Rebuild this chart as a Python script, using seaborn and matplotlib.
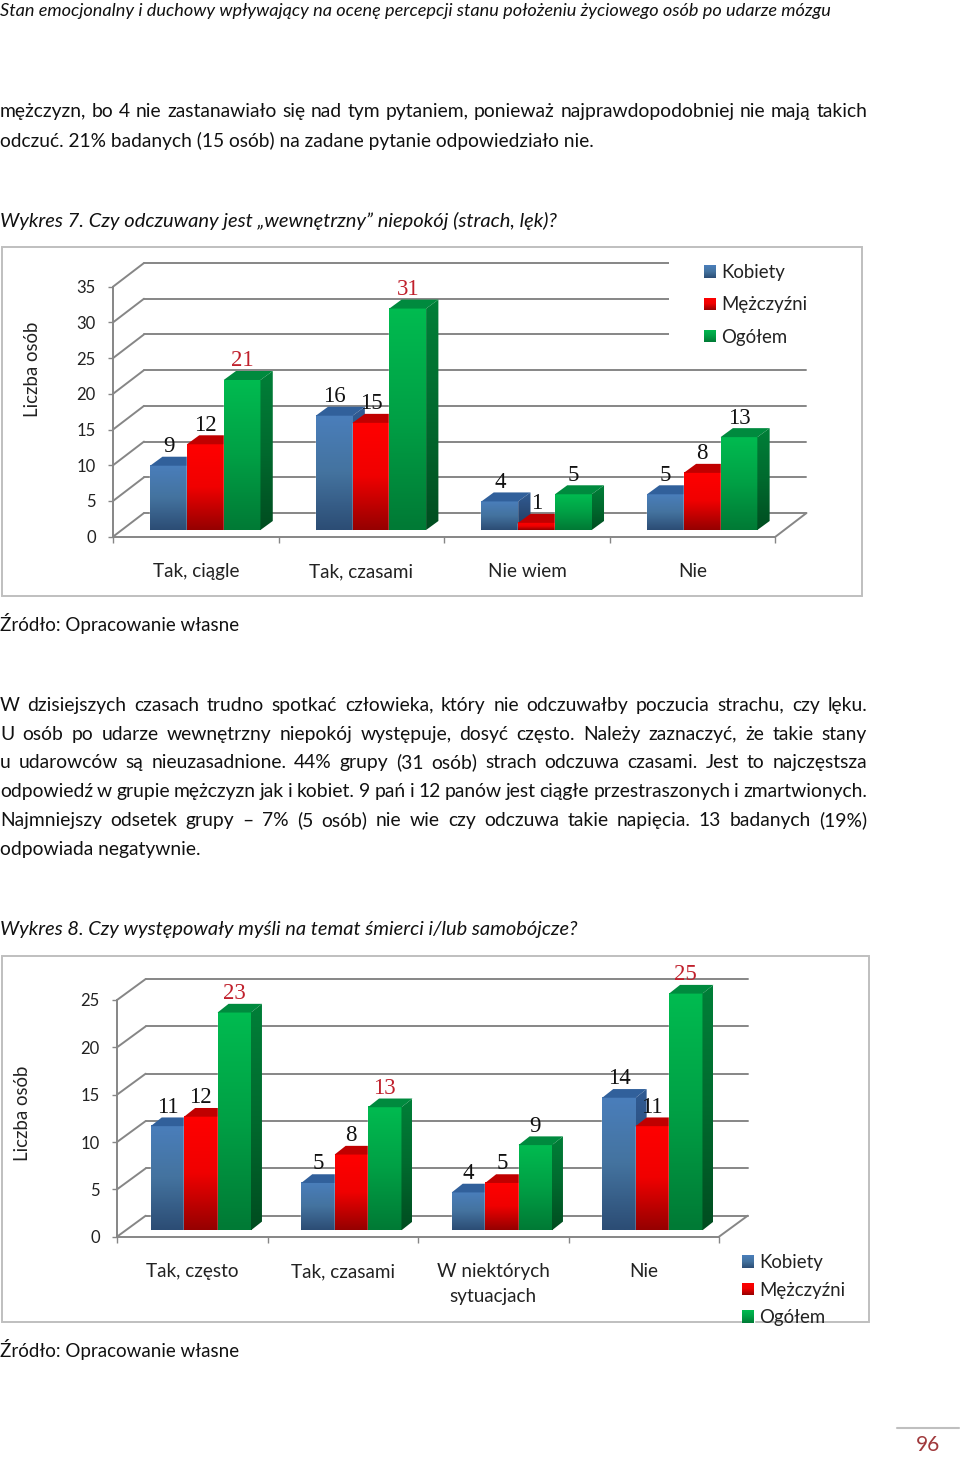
import numpy as np
import pandas as pd
import matplotlib
matplotlib.use("Agg")
import matplotlib.pyplot as plt
import seaborn as sns
from matplotlib.colors import LinearSegmentedColormap
from matplotlib.patches import Polygon, Rectangle

# Wykres 7
groups = ["Kobiety", "Mężczyźni", "Ogółem"]
cats_7 = ["Tak, ciągle", "Tak, czasami", "Nie wiem", "Nie"]
kobiety_7 = [9, 16, 4, 5]
mezczyzni_7 = [12, 15, 1, 8]
ogolem_7 = [21, 31, 5, 13]
yticks_7 = [0, 5, 10, 15, 20, 25, 30, 35]

# Wykres 8
cats_8 = ["Tak, często", "Tak, czasami", "W niektórych\nsytuacjach", "Nie"]
kobiety_8 = [11, 5, 4, 14]
mezczyzni_8 = [12, 8, 5, 11]
ogolem_8 = [23, 13, 9, 25]
yticks_8 = [0, 5, 10, 15, 20, 25]

# Text on the page
header = "Stan emocjonalny i duchowy wpływający na ocenę percepcji stanu położeniu życiowego osób po udarze mózgu"
intro = [
    "mężczyzn, bo 4 nie zastanawiało się nad tym pytaniem, ponieważ najprawdopodobniej nie mają takich",
    "odczuć. 21% badanych (15 osób) na zadane pytanie odpowiedziało nie.",
]
title_7 = "Wykres 7. Czy odczuwany jest „wewnętrzny” niepokój (strach, lęk)?"
title_8 = "Wykres 8. Czy występowały myśli na temat śmierci i/lub samobójcze?"
source = "Źródło: Opracowanie własne"
paragraph = [
    "W dzisiejszych czasach trudno spotkać człowieka, który nie odczuwałby poczucia strachu, czy lęku.",
    "U osób po udarze wewnętrzny niepokój występuje, dosyć często. Należy zaznaczyć, że takie stany",
    "u udarowców są nieuzasadnione. 44% grupy (31 osób) strach odczuwa czasami. Jest to najczęstsza",
    "odpowiedź w grupie mężczyzn jak i kobiet. 9 pań i 12 panów jest ciągłe przestraszonych i zmartwionych.",
    "Najmniejszy odsetek grupy – 7% (5 osób) nie wie czy odczuwa takie napięcia. 13 badanych (19%)",
]
last_line = "odpowiada negatywnie."

sns.set_theme(style="white")
plt.rcParams["font.family"] = ["Lato", "DejaVu Sans"]

GRID = "#868686"
FRAME = "#bfbfbf"
front_cmaps = {
    "Kobiety": ["#4a7ebb", "#44739f", "#2c4d75"],
    "Mężczyźni": ["#ff0000", "#f00000", "#960000"],
    "Ogółem": ["#00bb50", "#00a045", "#007a35"],
}
side_cmaps = {
    "Kobiety": ["#315c94", "#2a4b78", "#1f3a5f"],
    "Mężczyźni": ["#c00000", "#a00000", "#650000"],
    "Ogółem": ["#007f38", "#006a2e", "#004d20"],
}
top_colors = {"Kobiety": "#31609b", "Mężczyźni": "#c00000", "Ogółem": "#008a3e"}
palette = {k: v[1] for k, v in front_cmaps.items()}
ramp = np.linspace(0, 1, 64).reshape(-1, 1)

W, H = 960, 1458
fig = plt.figure(figsize=(W / 100, H / 100), dpi=100)

# background axes in page pixels, used for the text and the frames
bg = fig.add_axes([0, 0, 1, 1])
bg.set_xlim(0, W)
bg.set_ylim(H, 0)
bg.axis("off")


def gradient(ax, colors, extent, z, clip=None):
    cmap = LinearSegmentedColormap.from_list("g", colors)
    im = ax.imshow(ramp, cmap=cmap, extent=extent, aspect="auto", zorder=z,
                   interpolation="bilinear", origin="upper", vmin=0, vmax=1)
    im.set_clip_box(fig.bbox)
    if clip is not None:
        im.set_clip_path(clip)
    return im


def draw_chart(cats, series, yticks, x0, x1, y0, ytop, wall, bar_shift, depth,
               tick_pad, cat_pad, leg_xy, leg_space, red_labels, mask=None):
    ax = fig.add_axes([x0 / W, 1 - y0 / H, (x1 - x0) / W, (y0 - ytop) / H])
    ax.patch.set_alpha(0)
    df = pd.DataFrame({
        "kategoria": cats * 3,
        "grupa": np.repeat(groups, 4),
        "liczba": series[0] + series[1] + series[2],
    })
    sns.barplot(data=df, x="kategoria", y="liczba", hue="grupa", palette=palette,
                width=0.666, gap=0, saturation=1, ax=ax)
    ax.set_autoscale_on(False)
    ax.set_xlim(-0.5, 3.5)
    ax.set_ylim(0, yticks[-1])
    ax.set_xlabel("")
    ax.set_ylabel("")

    # data units per page pixel
    ux = 4 / (x1 - x0)
    uy = yticks[-1] / (y0 - ytop)
    wx, wy = wall[0] * ux, wall[1] * uy
    sx, sy = bar_shift[0] * ux, bar_shift[1] * uy
    dx, dy = depth[0] * ux, depth[1] * uy

    # back wall, left wall and floor
    for v in yticks:
        ax.plot([-0.5 + wx, 3.5 + wx], [v + wy, v + wy], color=GRID, lw=1.4, clip_on=False, zorder=1)
        ax.plot([-0.5, -0.5 + wx], [v, v + wy], color=GRID, lw=1.4, clip_on=False, zorder=1)
    ax.plot([3.5, 3.5 + wx], [0, wy], color=GRID, lw=1.4, clip_on=False, zorder=1)
    if mask is not None:
        ax.add_patch(Rectangle(mask[:2], mask[2], mask[3], transform=bg.transData,
                               fc="white", ec="none", clip_on=False, zorder=1.5))

    sns.despine(ax=ax)
    for side in ["left", "bottom"]:
        ax.spines[side].set_color(GRID)
        ax.spines[side].set_linewidth(1.4)
    ax.set_yticks(yticks)
    ax.set_xticks(np.arange(-0.5, 4))
    ax.set_xticklabels([])
    ax.set_xticks(range(4), cats, minor=True)
    ax.tick_params(axis="y", left=True, length=3.5, width=1, color=GRID, pad=tick_pad,
                   labelsize=12, labelcolor="#222222")
    ax.tick_params(axis="x", which="major", bottom=True, length=4, width=1, color=GRID)
    ax.tick_params(axis="x", which="minor", bottom=False, length=0, pad=cat_pad,
                   labelsize=13.6, labelcolor="#222222")
    for t in ax.get_xticklabels(minor=True):
        t.set_linespacing(1.55)

    # every category is drawn left to right so that nearer faces cover the rest
    z = 2.0
    bars = [(i, g, c[i]) for i in range(4) for g, c in zip(groups, ax.containers)]
    for i, g, bar in bars:
        h = bar.get_height()
        left = bar.get_x() + sx
        right = left + bar.get_width()
        base = sy
        bar.set_x(left)
        bar.set_y(base)
        bar.set_clip_on(False)
        bar.set_zorder(z)
        gradient(ax, front_cmaps[g], (left, right, base, base + h), z + 0.01)
        ax.add_patch(Polygon([(left, base + h), (right, base + h),
                              (right + dx, base + h + dy), (left + dx, base + h + dy)],
                             fc=top_colors[g], ec="none", clip_on=False, zorder=z + 0.02))
        side = Polygon([(right, base), (right + dx, base + dy),
                        (right + dx, base + h + dy), (right, base + h)],
                       transform=ax.transData)
        gradient(ax, side_cmaps[g], (right, right + dx, base, base + h + dy), z + 0.03, side)
        color = "#c0202c" if h in red_labels.get(g, []) else "#111111"
        ax.annotate(f"{int(h)}", (left + bar.get_width() / 2, base + h), xytext=(0, 19 * 0.72),
                    textcoords="offset points", ha="center", va="center", color=color,
                    fontsize=16.5, family="Liberation Serif", zorder=20, annotation_clip=False)
        z += 0.1

    handles, labels = ax.get_legend_handles_labels()
    ax.get_legend().remove()
    fs = 13.4
    px = fs * 100 / 72
    leg = ax.legend(handles, labels, loc="upper left", bbox_to_anchor=leg_xy,
                    bbox_transform=bg.transData, frameon=False, fontsize=fs,
                    borderpad=0, borderaxespad=0, handlelength=12 / px, handleheight=12 / px,
                    handletextpad=5 / px, labelspacing=(leg_space - px * 0.72) / px,
                    labelcolor="#222222")
    leg.set_zorder(30)
    return ax, leg


ax7, leg7 = draw_chart(
    cats_7, [kobiety_7, mezczyzni_7, ogolem_7], yticks_7,
    113, 775.5, 536.7, 286.7, (31, 23.7), (9.5, 6.7), (12.3, 9),
    tick_pad=9, cat_pad=19, leg_xy=(704, 264), leg_space=28.7,
    red_labels={"Ogółem": [21, 31]}, mask=(669, 255, 145, 92))
# the 13 of Ogółem stays black on this chart, only 21 and 31 are red

ax8, leg8 = draw_chart(
    cats_8, [kobiety_8, mezczyzni_8, ogolem_8], yticks_8,
    117, 719, 1236.7, 1000, (28.7, 21), (8.6, 6.4), (11, 8.7),
    tick_pad=9, cat_pad=19, leg_xy=(742, 1254), leg_space=24,
    red_labels={"Ogółem": [23, 13, 25]})

# frames and the page text
bg.add_patch(Rectangle((2, 247), 860, 349, fc="white", ec=FRAME, lw=1.4))
bg.add_patch(Rectangle((2, 955.7), 867, 366.3, fc="white", ec=FRAME, lw=1.4))

bg.text(32, 369, "Liczba osób", rotation=90, fontsize=13.4, color="#222222", ha="center", va="center")
bg.text(23, 1113, "Liczba osób", rotation=90, fontsize=13.4, color="#222222", ha="center", va="center")

renderer = fig.canvas.get_renderer()
BODY = 13.9


def justified(line, y, right=867, size=BODY):
    words = line.split(" ")
    items = [bg.text(0, y, w, fontsize=size, color="#111111", va="baseline") for w in words]
    widths = [t.get_window_extent(renderer).width for t in items]
    gap = (right - sum(widths)) / (len(words) - 1)
    x = 0
    for t, w in zip(items, widths):
        t.set_x(x)
        x += w + gap


def plain(line, y, size=BODY, style="normal"):
    bg.text(0, y, line, fontsize=size, style=style, color="#111111", va="baseline")


plain(header, 16, size=13.1, style="italic")
justified(intro[0], 117)
plain(intro[1], 146.5, size=13.75)
plain(title_7, 226.5, size=14.5, style="italic")
plain(source, 631, size=13.5)
for line, y in zip(paragraph, [710.7, 740, 768, 797, 826]):
    justified(line, y)
plain(last_line, 855)
plain(title_8, 935, size=14.4, style="italic")
plain(source, 1357, size=13.5)

bg.plot([897, 959], [1428, 1428], color=FRAME, lw=1.5)
bg.text(928, 1445, "96", fontsize=15, color="#a0393c", ha="center", va="center")
bg.set_xlim(0, W)
bg.set_ylim(H, 0)

# legend swatches get the same gradient as the bars
fig.canvas.draw()
for leg in [leg7, leg8]:
    for patch, g in zip(leg.get_patches(), groups):
        box = patch.get_window_extent(renderer).transformed(fig.transFigure.inverted())
        sw = fig.add_axes(box.bounds, zorder=40)
        sw.imshow(ramp, cmap=LinearSegmentedColormap.from_list("s", front_cmaps[g]), aspect="auto")
        sw.axis("off")

fig.savefig("out.png", dpi=100)
